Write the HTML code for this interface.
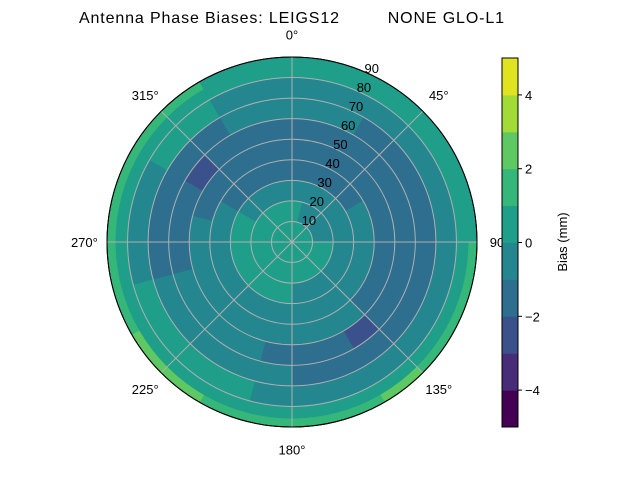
<!DOCTYPE html>
<html><head><meta charset="utf-8"><style>
body{margin:0;background:#fff}
svg text{font-family:"Liberation Sans",sans-serif;font-size:13px;fill:#000}
</style></head><body>
<svg id="chart" width="640" height="480" viewBox="0 0 640 480">
<text x="79" y="23" textLength="425" lengthAdjust="spacing" style="font-size:16px;white-space:pre" xml:space="preserve">Antenna Phase Biases: LEIGS12         NONE GLO-L1</text>
<g id="cells"></g><g id="grid"></g><g id="labels"></g><g id="cbar"></g>
</svg>
<script>
// zenith bands (deg), 24 azimuth sectors of 15 deg starting at North, clockwise
const zenithEdges=[0,10,20,30,40,50,60,70,80,86,90];
const biasGrid=[
[0.5,0.5,0.5,0.5,0.5,0.5,0.5,0.5,0.5,0.5,0.5,0.5,0.5,0.5,0.5,0.5,0.5,0.5,0.5,0.5,0.5,0.5,0.5,0.5],
[0.5,-0.5,-0.5,-0.5,-0.5,-0.5,0.5,0.5,0.5,0.5,0.5,0.5,0.5,0.5,0.5,0.5,0.5,0.5,0.5,0.5,0.5,0.5,0.5,0.5],
[-0.5,-0.5,-0.5,-0.5,-0.5,-0.5,-0.5,-0.5,-0.5,-0.5,-0.5,-0.5,0.5,0.5,0.5,0.5,0.5,0.5,0.5,0.5,-0.5,-0.5,-0.5,-0.5],
[-1.5,-1.5,-1.5,-1.5,-0.5,-0.5,-0.5,-0.5,-0.5,-0.5,-0.5,-0.5,-0.5,-0.5,-0.5,-0.5,-0.5,-0.5,-0.5,-0.5,-1.5,-1.5,-1.5,-1.5],
[-1.5,-1.5,-1.5,-1.5,-1.5,-1.5,-1.5,-1.5,-1.5,-0.5,-0.5,-0.5,-0.5,-0.5,-0.5,-0.5,-0.5,-0.5,-0.5,-1.5,-1.5,-1.5,-1.5,-1.5],
[-1.5,-1.5,-1.5,-1.5,-1.5,-1.5,-1.5,-1.5,-1.5,-2.5,-1.5,-1.5,-1.5,-0.5,-0.5,-0.5,-0.5,-1.5,-1.5,-1.5,-2.5,-1.5,-1.5,-1.5],
[-0.5,-0.5,-1.5,-1.5,-1.5,-1.5,-1.5,-1.5,-1.5,-1.5,-1.5,-1.5,-0.5,-0.5,-0.5,-0.5,-0.5,-1.5,-1.5,-1.5,-1.5,-1.5,-0.5,-0.5],
[-0.5,-0.5,-0.5,-0.5,-0.5,-0.5,-0.5,-0.5,-0.5,-0.5,-0.5,-0.5,-0.5,0.5,0.5,0.5,0.5,-0.5,-0.5,-0.5,0.5,0.5,-0.5,-0.5],
[0.5,0.5,0.5,0.5,0.5,0.5,0.5,0.5,0.5,0.5,0.5,0.5,0.5,0.5,0.5,0.5,0.5,0.5,0.5,0.5,0.5,0.5,0.5,0.5],
[0.5,0.5,0.5,0.5,0.5,0.5,1.5,1.5,1.5,2.5,1.5,1.5,1.5,1.5,2.5,2.5,1.5,1.5,1.5,1.5,1.5,1.5,0.5,0.5]
];
const levelColors=["#440154","#472c7a","#3b518b","#2e6e8e","#24868e","#1f9e89","#35b779","#5ec962","#a2da37","#e0e31f"];
const cbarTicks=[-4,-2,0,2,4];
const radialTicks=[10,20,30,40,50,60,70,80,90];
const angleTicks=[0,45,90,135,180,225,270,315];

const NS="http://www.w3.org/2000/svg";
const cx=292,cy=242,R=185;
const rScale=z=>z/90*R;
const pt=(z,a)=>[cx+rScale(z)*Math.sin(a*Math.PI/180),cy-rScale(z)*Math.cos(a*Math.PI/180)];
const colorOf=v=>levelColors[Math.max(0,Math.min(9,Math.floor(v+5)))];
function mk(t,attrs,parent){const e=document.createElementNS(NS,t);for(const k in attrs)e.setAttribute(k,attrs[k]);parent.appendChild(e);return e;}
const cells=document.getElementById('cells');
const nA=biasGrid[0].length, dA=360/nA;
biasGrid.forEach((row,i)=>{
  const z0=zenithEdges[i],z1=zenithEdges[i+1];
  row.forEach((v,j)=>{
    const a0=j*dA,a1=(j+1)*dA;
    const p0=pt(z0,a0),p1=pt(z1,a0),p2=pt(z1,a1),p3=pt(z0,a1);
    const r0=rScale(z0),r1=rScale(z1);
    const d=`M${p0}L${p1}A${r1},${r1} 0 0 1 ${p2}L${p3}`+(r0>0?`A${r0},${r0} 0 0 0 ${p0}`:'')+'Z';
    const e=mk('path',{d:d,fill:colorOf(v),stroke:colorOf(v),'stroke-width':0.6},cells);
    
    
  });
});
const grid=document.getElementById('grid'), labels=document.getElementById('labels');
radialTicks.forEach(z=>{
  const e=mk('circle',{cx:cx,cy:cy,r:rScale(z),fill:'none',stroke:z===90?'#000':'#b0b0b0','stroke-width':1},grid);
  
  
  const p=pt(z,22.5);
  const t=mk('text',{x:p[0]+9,y:p[1]+2,'text-anchor':'middle'},labels);t.textContent=z;
  
  
});
angleTicks.forEach(a=>{
  const p=pt(90,a);
  const l=mk('line',{x1:cx,y1:cy,x2:p[0],y2:p[1],stroke:'#b0b0b0','stroke-width':1},grid);
  
  
  const q=pt(101,a);
  const t=mk('text',{x:q[0],y:q[1]+5,'text-anchor':'middle'},labels);t.textContent=a+'°';
  
  
});
const ring=mk('circle',{cx:cx,cy:cy,r:R,fill:'none',stroke:'#000','stroke-width':1},grid);


// colorbar
const cb=document.getElementById('cbar');
const cbX=502,cbW=16,cbTop=58,cbBot=427;
const cbY=v=>cbBot-(v+5)/10*(cbBot-cbTop);
levelColors.forEach((c,i)=>{
  const r=mk('rect',{x:cbX,y:cbY(i-4),width:cbW,height:cbY(i-5)-cbY(i-4)+0.5,fill:c},cb);
  
  
});
const fr=mk('rect',{x:cbX,y:cbTop,width:cbW,height:cbBot-cbTop,fill:'none',stroke:'#000','stroke-width':1},cb);


cbarTicks.forEach(v=>{
  const y=cbY(v);
  mk('line',{x1:cbX+cbW,y1:y,x2:cbX+cbW+4,y2:y,stroke:'#000'},cb);
  const t=mk('text',{x:cbX+cbW+7,y:y+5},cb);t.textContent=v<0?'−'+(-v):v;
  
  
});
const ct=mk('text',{x:0,y:0,transform:`translate(567,242) rotate(-90)`,'text-anchor':'middle'},cb);
ct.textContent='Bias (mm)';


</script>
</body></html>
